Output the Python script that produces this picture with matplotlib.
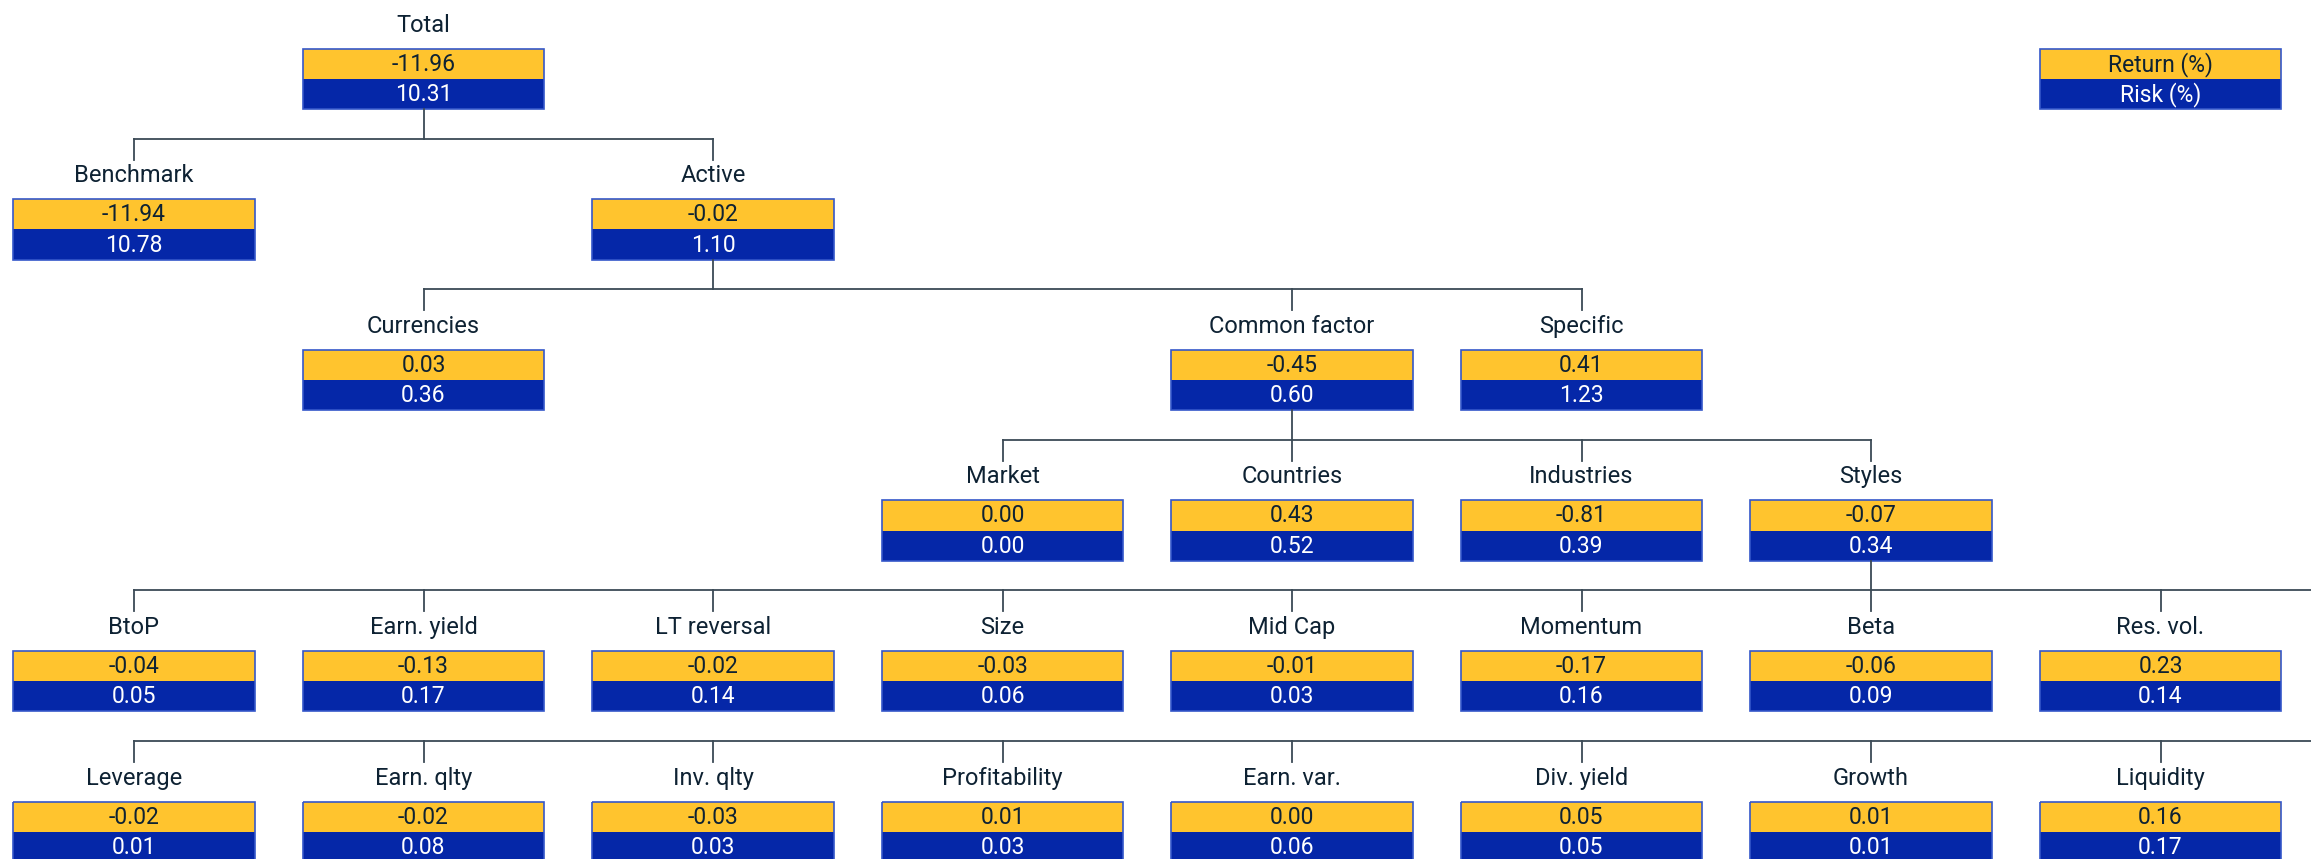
import matplotlib.pyplot as plt
from matplotlib.patches import Rectangle

plt.rcParams['font.family'] = ['Roboto', 'DejaVu Sans']

# node data: name, return (%), risk (%)
names = ["Total", "Benchmark", "Active", "Currencies", "Common factor", "Specific",
         "Market", "Countries", "Industries", "Styles",
         "BtoP", "Earn. yield", "LT reversal", "Size", "Mid Cap", "Momentum", "Beta", "Res. vol.",
         "Leverage", "Earn. qlty", "Inv. qlty", "Profitability", "Earn. var.", "Div. yield",
         "Growth", "Liquidity"]
returns = [-11.96, -11.94, -0.02, 0.03, -0.45, 0.41,
           0.00, 0.43, -0.81, -0.07,
           -0.04, -0.13, -0.02, -0.03, -0.01, -0.17, -0.06, 0.23,
           -0.02, -0.02, -0.03, 0.01, 0.00, 0.05, 0.01, 0.16]
risks = [10.31, 10.78, 1.10, 0.36, 0.60, 1.23,
         0.00, 0.52, 0.39, 0.34,
         0.05, 0.17, 0.14, 0.06, 0.03, 0.16, 0.09, 0.14,
         0.01, 0.08, 0.03, 0.03, 0.06, 0.05, 0.01, 0.17]

# tree structure
children = {
    "Total": ["Benchmark", "Active"],
    "Active": ["Currencies", "Common factor", "Specific"],
    "Common factor": ["Market", "Countries", "Industries", "Styles"],
    "Styles": ["BtoP", "Earn. yield", "LT reversal", "Size", "Mid Cap", "Momentum", "Beta",
               "Res. vol.", "Leverage", "Earn. qlty", "Inv. qlty", "Profitability",
               "Earn. var.", "Div. yield", "Growth", "Liquidity"],
}
legend_labels = ["Return (%)", "Risk (%)"]

# layout (grid row, column) for each node
grid = {
    "Total": (0, 1), "Benchmark": (1, 0), "Active": (1, 2),
    "Currencies": (2, 1), "Common factor": (2, 4), "Specific": (2, 5),
    "Market": (3, 3), "Countries": (3, 4), "Industries": (3, 5), "Styles": (3, 6),
}
for i, n in enumerate(children["Styles"]):
    grid[n] = (4 + i // 8, i % 8)

W, H = 2311, 859
YELLOW = '#ffc42e'
BLUE = '#0527a8'
EDGE = '#3557c9'
TXT = '#0e2233'
LINE = '#3b4a56'

x0, dx = 134, 289.5
y0, dy = 23.6, 150.6
bw, bh = 241.7, 30.2


def col_x(c):
    return x0 + dx * c


def row_y(r):
    return y0 + dy * r


fig = plt.figure(figsize=(W / 100, H / 100), dpi=100)
ax = fig.add_axes([0, 0, 1, 1])
ax.set_xlim(0, W)
ax.set_ylim(H, 0)
ax.axis('off')


def draw_box(cx, ly, top_txt, bot_txt, label=None):
    top = ly + 25
    if label is not None:
        ax.text(cx, ly + 1.5, label, ha='center', va='center', fontsize=17, color=TXT)
    ax.add_patch(Rectangle((cx - bw / 2, top), bw, bh, facecolor=YELLOW, edgecolor='none'))
    ax.add_patch(Rectangle((cx - bw / 2, top + bh), bw, bh, facecolor=BLUE, edgecolor='none'))
    ax.add_patch(Rectangle((cx - bw / 2, top), bw, 2 * bh, facecolor='none', edgecolor=EDGE, lw=1.2))
    ax.text(cx, top + bh / 2 + 0.5, top_txt, ha='center', va='center', fontsize=16.5, color=TXT)
    ax.text(cx, top + 1.5 * bh + 0.5, bot_txt, ha='center', va='center', fontsize=16.5, color='white')


# connectors
for parent, kids in children.items():
    pr, pc = grid[parent]
    rows = sorted(set(grid[k][0] for k in kids))
    wraps = len(rows) > 1
    for r in rows:
        group = [k for k in kids if grid[k][0] == r]
        hy = row_y(r - 1) + 115
        if r == pr + 1:
            ax.plot([col_x(pc)] * 2, [row_y(pr) + 25 + 2 * bh, hy], color=LINE, lw=1.3)
        xs = [col_x(grid[k][1]) for k in group]
        x_end = W if wraps else max(xs)
        ax.plot([min(xs), x_end], [hy, hy], color=LINE, lw=1.3)
        for x in xs:
            ax.plot([x, x], [hy, row_y(r) - 14.7], color=LINE, lw=1.3)

# nodes
for n, ret, rsk in zip(names, returns, risks):
    r, c = grid[n]
    draw_box(col_x(c), row_y(r), f"{ret:.2f}", f"{rsk:.2f}", label=n)

# legend box
draw_box(col_x(7), row_y(0), legend_labels[0], legend_labels[1])

fig.savefig('out.png', dpi=100)
